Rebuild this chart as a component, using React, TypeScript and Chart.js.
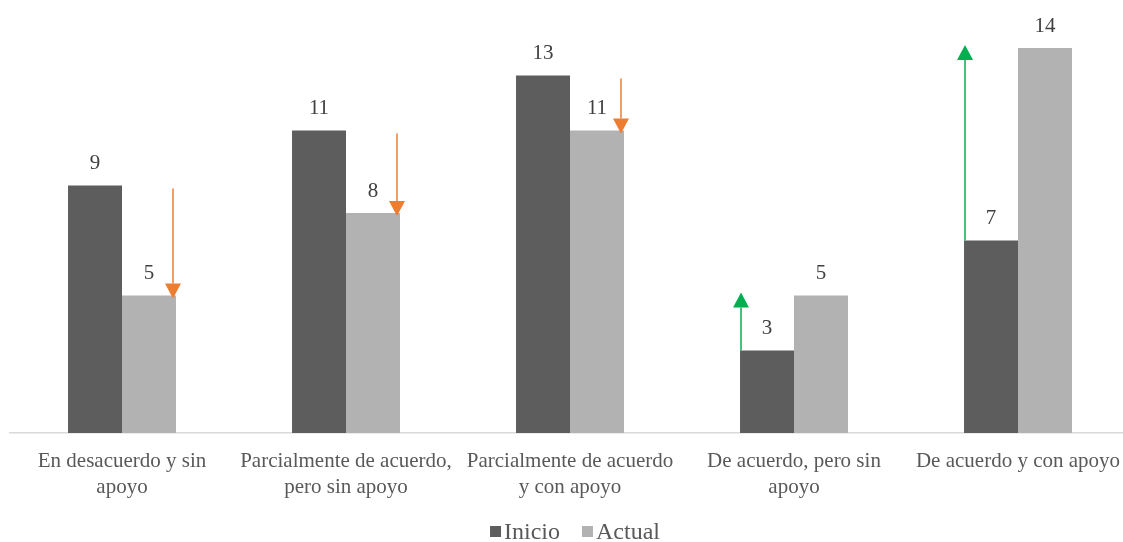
import React, { useEffect, useRef } from "react";
import { Chart, registerables } from "chart.js";

Chart.register(...registerables);

const categories: string[][] = [
  ["En desacuerdo y sin", "apoyo"],
  ["Parcialmente de acuerdo,", "pero sin apoyo"],
  ["Parcialmente de acuerdo", "y con apoyo"],
  ["De acuerdo, pero sin", "apoyo"],
  ["De acuerdo y con apoyo"],
];
const seriesNames: string[] = ["Inicio", "Actual"];
const inicio: number[] = [9, 11, 13, 3, 7];
const actual: number[] = [5, 8, 11, 5, 14];

const FONT = "'Liberation Serif', 'Times New Roman', serif";
const COLORS = ["#5d5d5d", "#b2b2b2"];

const valueLabels = {
  id: "valueLabels",
  afterDatasetsDraw(chart: any) {
    const ctx = chart.ctx;
    ctx.save();
    ctx.font = `21px ${FONT}`;
    ctx.fillStyle = "#404040";
    ctx.textAlign = "center";
    ctx.textBaseline = "alphabetic";
    chart.data.datasets.forEach((ds: any, di: number) => {
      const meta = chart.getDatasetMeta(di);
      meta.data.forEach((bar: any, i: number) => {
        ctx.fillText(String(ds.data[i]), bar.x, bar.y - 16);
      });
    });
    ctx.restore();
  },
};

const arrows = {
  id: "arrows",
  afterDatasetsDraw(chart: any) {
    const ctx = chart.ctx;
    const y = chart.scales.y;
    const m0 = chart.getDatasetMeta(0);
    const m1 = chart.getDatasetMeta(1);
    ctx.save();
    inicio.forEach((from, i) => {
      const to = actual[i];
      const up = to > from;
      const b0 = m0.data[i];
      const b1 = m1.data[i];
      const x = up ? b0.x - b0.width / 2 + 1 : b1.x + b1.width / 2 - 3;
      const y0 = y.getPixelForValue(from) + (up ? 0 : 3);
      const y1 = y.getPixelForValue(to) + (up ? -3 : 3);
      const color = up ? "#00B050" : "#ED7D31";
      const head = 15;
      const hw = 8;
      ctx.strokeStyle = color;
      ctx.fillStyle = color;
      ctx.lineWidth = 1.5;
      ctx.beginPath();
      ctx.moveTo(x, y0);
      ctx.lineTo(x, up ? y1 + head : y1 - head);
      ctx.stroke();
      ctx.beginPath();
      ctx.moveTo(x, y1);
      ctx.lineTo(x - hw, up ? y1 + head : y1 - head);
      ctx.lineTo(x + hw, up ? y1 + head : y1 - head);
      ctx.closePath();
      ctx.fill();
    });
    ctx.restore();
  },
};

const customLegend = {
  id: "customLegend",
  afterDraw(chart: any) {
    const ctx = chart.ctx;
    ctx.save();
    ctx.font = `24px ${FONT}`;
    ctx.textBaseline = "alphabetic";
    ctx.textAlign = "left";
    const box = 11;
    const gapBoxText = 3;
    const gapItems = 22;
    const widths = seriesNames.map((n) => box + gapBoxText + ctx.measureText(n).width);
    const total = widths.reduce((a, b) => a + b, 0) + gapItems * (widths.length - 1);
    let x = 575 - total / 2;
    const baseline = 539;
    seriesNames.forEach((n, i) => {
      ctx.fillStyle = COLORS[i];
      ctx.fillRect(x, baseline - 13, box, box);
      ctx.fillStyle = "#595959";
      ctx.fillText(n, x + box + gapBoxText, baseline);
      x += widths[i] + gapItems;
    });
    ctx.restore();
  },
};

export default function App() {
  const ref = useRef<HTMLCanvasElement>(null);
  useEffect(() => {
    if (!ref.current) return;
    const chart = new Chart(ref.current, {
      type: "bar",
      data: {
        labels: categories,
        datasets: [
          {
            label: seriesNames[0],
            data: inicio,
            backgroundColor: COLORS[0],
            categoryPercentage: 0.482,
            barPercentage: 1,
          },
          {
            label: seriesNames[1],
            data: actual,
            backgroundColor: COLORS[1],
            categoryPercentage: 0.482,
            barPercentage: 1,
          },
        ],
      },
      options: {
        animation: false,
        responsive: true,
        maintainAspectRatio: false,
        layout: { padding: { top: 48, left: 10, right: 10, bottom: 33 } },
        scales: {
          y: {
            display: false,
            min: 0,
            max: 14,
          },
          x: {
            grid: { display: false },
            border: { display: true, color: "#d9d9d9", width: 1.5 },
            ticks: {
              color: "#595959",
              font: { family: FONT, size: 21, lineHeight: 1.24 },
              maxRotation: 0,
              autoSkip: false,
              padding: 8,
            },
          },
        },
        plugins: {
          legend: { display: false },
          tooltip: { enabled: false },
        },
      },
      plugins: [valueLabels, arrows, customLegend],
    });
    return () => chart.destroy();
  }, []);
  return (
    <div
      style={{
        position: "fixed",
        left: 0,
        top: 0,
        width: 1123,
        height: 542,
        overflow: "hidden",
        background: "#fff",
      }}
    >
      <div style={{ position: "relative", width: 1140, height: 542 }}>
        <canvas ref={ref} />
      </div>
    </div>
  );
}
